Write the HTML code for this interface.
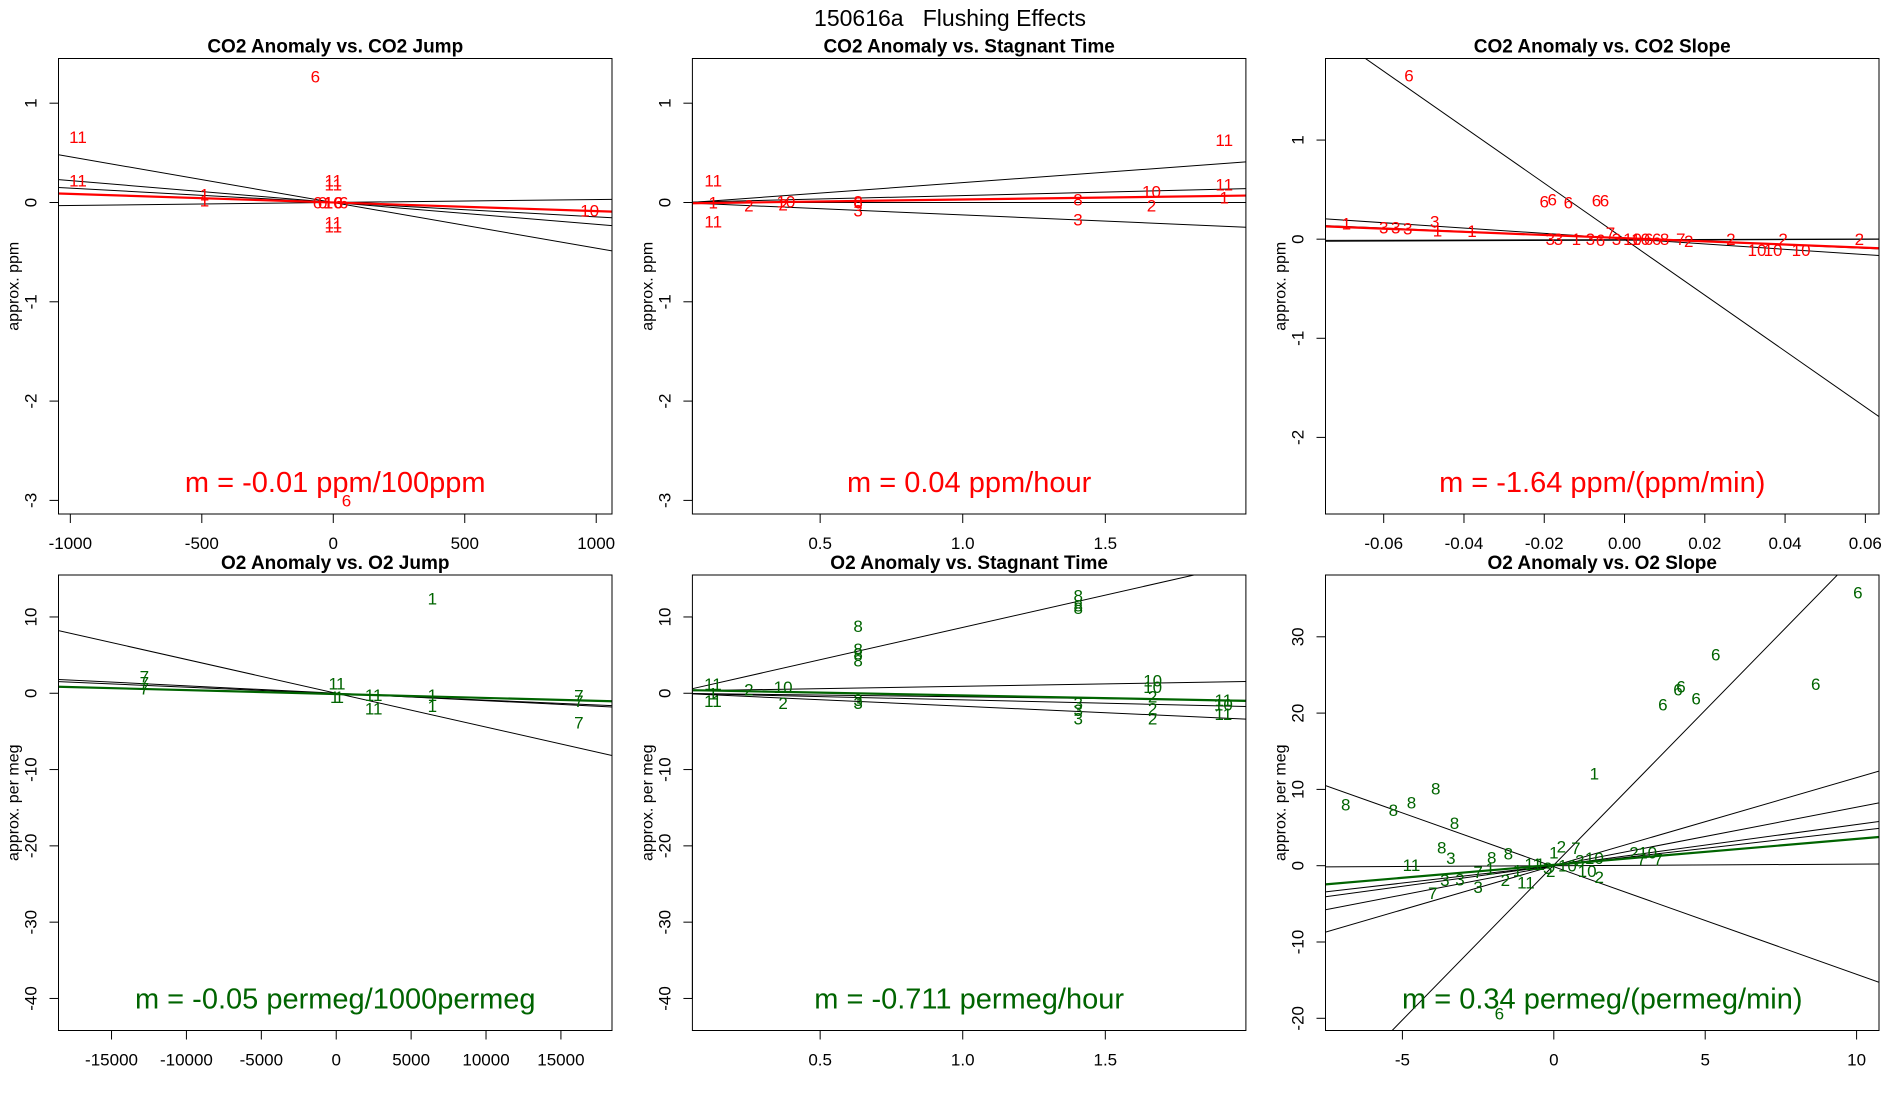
<!DOCTYPE html>
<html><head><meta charset="utf-8">
<style>
html,body{margin:0;padding:0;background:#fff;}
svg{display:block;font-family:"Liberation Sans",sans-serif;}
</style></head>
<body>
<svg id="chart" width="1900" height="1100" viewBox="0 0 1900 1100" xmlns="http://www.w3.org/2000/svg">
<rect x="0" y="0" width="1900" height="1100" fill="#fff"/>
<text x="950" y="26" font-size="23" text-anchor="middle" xml:space="preserve" style="white-space:pre">150616a   Flushing Effects</text>
</svg>
<script>
// ---------- Panel 1: CO2 Anomaly vs. CO2 Jump ----------
const p1X = [-971,-971,-490,-490,-68,-60,-40,-20,0,20,40,0,0,0,0,975,50];
const p1Y = [0.66,0.22,0.08,0.02,1.27,0,0,0,0,0,0,0.22,0.18,-0.24,-0.2,-0.08,-3.0];
const p1Lab = ["11","11","1","1","6","6","0","1","10","6","6","11","11","11","11","10","6"];
const p1LineInt = [0,0,0,0];
const p1LineSlope = [-0.00046,-0.00022,-0.000145,0.00003];
const p1FitInt = 0;
const p1FitSlope = -0.0000865;
const p1XTicks = [-1000,-500,0,500,1000];
const p1YTicks = [1,0,-1,-2,-3];

// ---------- Panel 2: CO2 Anomaly vs. Stagnant Time ----------
const p2X = [0.125,0.125,0.125,0.25,0.38,0.37,0.633,0.633,0.633,1.404,1.404,1.662,1.662,1.917,1.917,1.917];
const p2Y = [0.22,-0.19,0.0,-0.03,0.01,-0.02,0.01,0.0,-0.08,0.03,-0.17,0.11,-0.03,0.63,0.18,0.05];
const p2Lab = ["11","11","1","2","10","2","8","6","3","8","3","10","2","11","11","1"];
const p2LineInt = [-0.01,0,0,0];
const p2LineSlope = [0.21,0.07,-0.125,0.0];
const p2FitInt = -0.01;
const p2FitSlope = 0.04;
const p2XTicks = [0.5,1.0,1.5];
const p2YTicks = [1,0,-1,-2,-3];

// ---------- Panel 3: CO2 Anomaly vs. CO2 Slope ----------
const p3X = [-0.0537,-0.0693,-0.060,-0.057,-0.054,-0.0473,-0.0466,-0.038,-0.020,-0.018,-0.014,-0.007,-0.005,-0.0185,-0.0165,-0.012,-0.0085,-0.006,-0.0035,-0.002,0.002,0.004,0.006,0.008,0.010,0.014,0.016,0.0265,0.0395,0.033,0.037,0.044,0.0585];
const p3Y = [1.65,0.16,0.12,0.12,0.11,0.18,0.09,0.08,0.38,0.40,0.37,0.39,0.39,0.0,0.0,0.0,0.0,-0.01,0.06,0.0,0.0,0.0,0.0,0.0,0.0,0.0,-0.02,0.0,0.0,-0.11,-0.11,-0.11,0.0];
const p3Lab = ["6","1","3","3","3","3","1","1","6","6","6","6","6","3","3","1","3","6","7","3","10","10","6","6","8","7","2","2","2","10","10","10","2"];
const p3LineInt = [0,0.005,0.01,-0.01,-0.005];
const p3LineSlope = [-28.24,-2.68,-1.7,0.15,0.1];
const p3FitInt = 0.01;
const p3FitSlope = -1.6;
const p3XTicks = [-0.06,-0.04,-0.02,0.00,0.02,0.04,0.06];
const p3XTickLab = ["-0.06","-0.04","-0.02","0.00","0.02","0.04","0.06"];
const p3YTicks = [1,0,-1,-2];

// ---------- Panel 4: O2 Anomaly vs. O2 Jump ----------
const p4X = [6420,-12810,-12810,-12810,-200,300,-100,200,2500,2500,6420,6420,16200,16200,16200];
const p4Y = [12.4,2.2,1.4,0.6,1.3,1.3,-0.5,-0.5,-0.2,-2.0,-0.2,-1.7,-0.3,-1.0,-3.8];
const p4Lab = ["1","7","7","7","1","1","1","1","11","11","1","1","7","7","7"];
const p4LineInt = [0,0,-0.05];
const p4LineSlope = [-0.000443,-0.0000975,-0.000085];
const p4FitInt = -0.1;
const p4FitSlope = -0.0000513;
const p4XTicks = [-15000,-10000,-5000,0,5000,10000,15000];
const p4YTicks = [10,0,-10,-20,-30,-40];

// ---------- Panel 5: O2 Anomaly vs. Stagnant Time ----------
const p5X = [0.633,0.633,0.633,0.633,1.405,1.405,1.405,0.124,0.124,0.124,0.25,0.37,0.37,0.633,0.633,1.405,1.405,1.405,1.666,1.666,1.666,1.666,1.666,1.914,1.914,1.914];
const p5Y = [8.8,5.8,5.2,4.3,12.8,11.5,11.2,1.2,-1.0,0.0,0.5,0.8,-1.3,-0.9,-1.3,-1.3,-2.2,-3.3,1.7,0.8,-0.4,-2.0,-3.3,-0.9,-2.7,-1.5];
const p5Lab = ["8","8","8","8","8","8","8","11","11","1","2","10","2","3","3","3","3","3","10","10","2","2","2","11","11","10"];
const p5LineInt = [0.16,0.3,0,0,0];
const p5LineSlope = [8.47,0.62,-0.87,-1.7,-0.47];
const p5FitInt = 0.44;
const p5FitSlope = -0.72;
const p5XTicks = [0.5,1.0,1.5];
const p5YTicks = [10,0,-10,-20,-30,-40];

// ---------- Panel 6: O2 Anomaly vs. O2 Slope ----------
const p6X = [10.04,5.35,4.2,4.1,3.6,4.7,8.65,1.34,-6.87,-5.3,-4.7,-3.9,-3.28,-3.7,-3.4,-4.7,-2.05,-1.5,-3.6,-3.1,-2.5,-4.0,-2.5,-2.1,-1.6,-0.92,-0.68,-0.45,0.25,0.0,0.73,-0.1,0.45,0.86,1.34,1.1,1.5,2.65,3.1,2.9,3.45,-1.8,-1.2,-0.2];
const p6Y = [35.8,27.7,23.5,23.1,21.1,21.9,23.8,12.1,8.0,7.3,8.3,10.1,5.6,2.4,1.0,0.1,1.1,1.6,-1.9,-1.8,-2.8,-3.6,-0.8,-0.4,-1.9,-2.2,0.2,0.2,2.5,1.7,2.3,-0.7,0.0,0.7,1.0,-0.7,-1.5,1.7,1.7,0.9,0.8,-19.4,-0.6,-0.3];
const p6Lab = ["6","6","6","6","6","6","6","1","8","8","8","8","8","8","3","11","8","8","3","3","3","7","7","1","2","11","11","1","2","1","7","2","10","3","10","10","2","2","10","7","7","6","1","3"];
const p6LineInt = [0.08,-0.13,0,0,0,0,0];
const p6LineSlope = [4.06,-1.41,1.154,0.766,0.54,0.455,0.02];
const p6FitInt = 0.11;
const p6FitSlope = 0.34;
const p6XTicks = [-5,0,5,10];
const p6YTicks = [-20,-10,0,10,20,30];

const RED = "#ff0000", GREEN = "#006400";
const NS = "http://www.w3.org/2000/svg";
const svg = document.getElementById('chart');

function mk(tag, attrs, parent){
  const e = document.createElementNS(NS, tag);
  for (const k in attrs) e.setAttribute(k, attrs[k]);
  (parent||svg).appendChild(e);
  return e;
}

const panels = [
  {key:'co2-jump', title:'CO2 Anomaly vs. CO2 Jump', L:58.5, T:58.5, xmin:-1045, xmax:1060, ymin:-3.137, ymax:1.45,
   X:p1X, Y:p1Y, lab:p1Lab, li:p1LineInt, ls:p1LineSlope, fi:p1FitInt, fs:p1FitSlope, xt:p1XTicks, xtl:null, yt:p1YTicks,
   col:RED, ytitle:'approx. ppm', m:'m = -0.01 ppm/100ppm'},
  {key:'co2-stagnant', title:'CO2 Anomaly vs. Stagnant Time', L:692.4, T:58.5, xmin:0.052, xmax:1.993, ymin:-3.137, ymax:1.45,
   X:p2X, Y:p2Y, lab:p2Lab, li:p2LineInt, ls:p2LineSlope, fi:p2FitInt, fs:p2FitSlope, xt:p2XTicks, xtl:["0.5","1.0","1.5"], yt:p2YTicks,
   col:RED, ytitle:'approx. ppm', m:'m = 0.04 ppm/hour'},
  {key:'co2-slope', title:'CO2 Anomaly vs. CO2 Slope', L:1325.5, T:58.5, xmin:-0.0745, xmax:0.0634, ymin:-2.773, ymax:1.823,
   X:p3X, Y:p3Y, lab:p3Lab, li:p3LineInt, ls:p3LineSlope, fi:p3FitInt, fs:p3FitSlope, xt:p3XTicks, xtl:p3XTickLab, yt:p3YTicks,
   col:RED, ytitle:'approx. ppm', m:'m = -1.64 ppm/(ppm/min)'},
  {key:'o2-jump', title:'O2 Anomaly vs. O2 Jump', L:58.5, T:575, xmin:-18540, xmax:18410, ymin:-44.2, ymax:15.5,
   X:p4X, Y:p4Y, lab:p4Lab, li:p4LineInt, ls:p4LineSlope, fi:p4FitInt, fs:p4FitSlope, xt:p4XTicks, xtl:null, yt:p4YTicks,
   col:GREEN, ytitle:'approx. per meg', m:'m = -0.05 permeg/1000permeg'},
  {key:'o2-stagnant', title:'O2 Anomaly vs. Stagnant Time', L:692.4, T:575, xmin:0.052, xmax:1.993, ymin:-44.2, ymax:15.5,
   X:p5X, Y:p5Y, lab:p5Lab, li:p5LineInt, ls:p5LineSlope, fi:p5FitInt, fs:p5FitSlope, xt:p5XTicks, xtl:["0.5","1.0","1.5"], yt:p5YTicks,
   col:GREEN, ytitle:'approx. per meg', m:'m = -0.711 permeg/hour'},
  {key:'o2-slope', title:'O2 Anomaly vs. O2 Slope', L:1325.5, T:575, xmin:-7.54, xmax:10.74, ymin:-21.6, ymax:38.1,
   X:p6X, Y:p6Y, lab:p6Lab, li:p6LineInt, ls:p6LineSlope, fi:p6FitInt, fs:p6FitSlope, xt:p6XTicks, xtl:null, yt:p6YTicks,
   col:GREEN, ytitle:'approx. per meg', m:'m = 0.34 permeg/(permeg/min)'}
];
const W = 553.5, H = 455.5;

panels.forEach((p, idx) => {
  const g = mk('g', {});
  
  
  const sx = v => p.L + (v - p.xmin) / (p.xmax - p.xmin) * W;
  const sy = v => p.T + (p.ymax - v) / (p.ymax - p.ymin) * H;

  const clipId = 'clip' + idx;
  const cp = mk('clipPath', {id: clipId}, g);
  mk('rect', {x:p.L, y:p.T, width:W, height:H}, cp);

  const title = mk('text', {x:p.L + W/2, y:p.T - 6, 'font-size':19, 'font-weight':'bold', 'text-anchor':'middle'}, g);
  title.textContent = p.title;
  
  

  const xa = mk('g', {}, g);
  
  
  const xb = p.T + H;
  mk('line', {x1:sx(p.xt[0]), x2:sx(p.xt[p.xt.length-1]), y1:xb, y2:xb, stroke:'#000', 'stroke-width':1}, xa);
  p.xt.forEach((v, i) => {
    mk('line', {x1:sx(v), x2:sx(v), y1:xb, y2:xb + 9, stroke:'#000', 'stroke-width':1}, xa);
    const t = mk('text', {x:sx(v), y:xb + 35, 'font-size':17, 'text-anchor':'middle'}, xa);
    t.textContent = p.xtl ? p.xtl[i] : String(v);
    
    
  });
  const ya = mk('g', {}, g);
  
  
  mk('line', {x1:p.L, x2:p.L, y1:sy(Math.max(...p.yt)), y2:sy(Math.min(...p.yt)), stroke:'#000', 'stroke-width':1}, ya);
  p.yt.forEach(v => {
    mk('line', {x1:p.L - 9, x2:p.L, y1:sy(v), y2:sy(v), stroke:'#000', 'stroke-width':1}, ya);
    const tx = p.L - 22, ty = sy(v);
    const t = mk('text', {x:tx, y:ty, 'font-size':17, 'text-anchor':'middle', transform:`rotate(-90 ${tx} ${ty})`}, ya);
    t.textContent = String(v);
    
    
  });
  const yx = p.L - 40, yy = p.T + H/2;
  const yt = mk('text', {x:yx, y:yy, 'font-size':16, 'text-anchor':'middle', transform:`rotate(-90 ${yx} ${yy})`}, g);
  yt.textContent = p.ytitle;
  
  

  const pc = mk('g', {'clip-path':`url(#${clipId})`}, g);
  p.li.forEach((b, i) => {
    const s = p.ls[i];
    const ln = mk('line', {x1:sx(p.xmin), y1:sy(b + s*p.xmin), x2:sx(p.xmax), y2:sy(b + s*p.xmax), stroke:'#000', 'stroke-width':1}, pc);
    
    
  });
  p.X.forEach((x, i) => {
    const t = mk('text', {x:sx(x), y:sy(p.Y[i]) + 6, 'font-size':17, fill:p.col, 'text-anchor':'middle'}, pc);
    t.textContent = p.lab[i];
    
    
  });
  const fl = mk('line', {x1:sx(p.xmin), y1:sy(p.fi + p.fs*p.xmin), x2:sx(p.xmax), y2:sy(p.fi + p.fs*p.xmax), stroke:p.col, 'stroke-width':2.2}, pc);
  
  

  const mt = mk('text', {x:p.L + W/2, y:p.T + H - 22, 'font-size':29, fill:p.col, 'text-anchor':'middle'}, g);
  mt.textContent = p.m;
  
  

  const box = mk('rect', {x:p.L, y:p.T, width:W, height:H, fill:'none', stroke:'#000', 'stroke-width':1}, g);
  
  
});
</script>
</body></html>
